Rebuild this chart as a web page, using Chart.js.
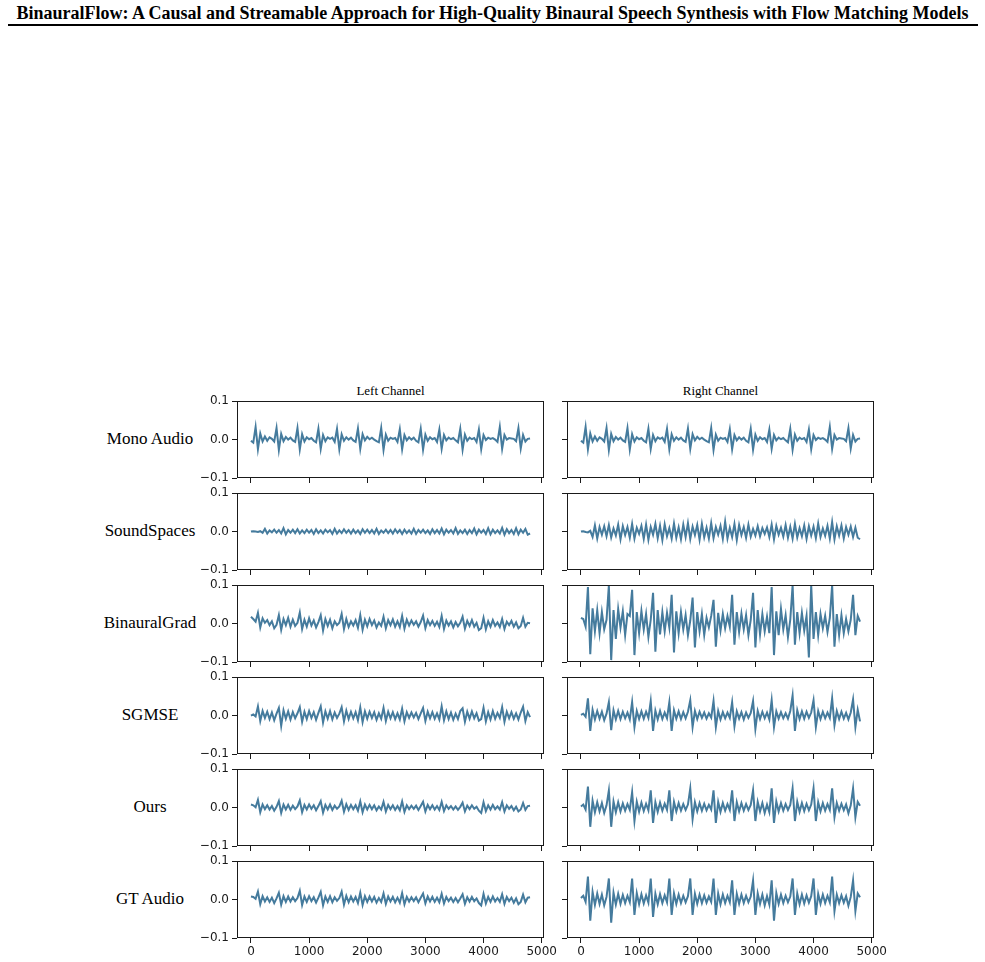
<!DOCTYPE html>
<html>
<head>
<meta charset="utf-8">
<script src="https://cdn.jsdelivr.net/npm/chart.js@4.4.1/dist/chart.umd.min.js"></script>
<style>
  body { margin: 0; background: #fff; width: 985px; height: 962px; position: relative; overflow: hidden; }
  .title { position: absolute; left: 0; width: 985px; top: 3px; text-align: center;
           font: bold 18px "Liberation Serif", serif; color: #000; white-space: nowrap; }
  .rule { position: absolute; left: 8px; width: 970px; top: 24px; height: 2px; background: #000; }
  .rowlab { position: absolute; left: 70px; width: 160px; text-align: center;
            font: 17px "Liberation Serif", serif; color: #000; }
  .collab { position: absolute; width: 307px; text-align: center;
            font: 13px "Liberation Serif", serif; color: #000; }
  canvas { position: absolute; }
</style>
</head>
<body>
<div class="title">BinauralFlow: A Causal and Streamable Approach for High-Quality Binaural Speech Synthesis with Flow Matching Models</div>
<div class="rule"></div>
<script>
// sample index step between stored values
const SAMPLE_STEP = 40;
const X_TICKS = [0, 1000, 2000, 3000, 4000, 5000];
const Y_TICKS = [-0.1, 0, 0.1];
const Y_TICK_LABELS = ['\u22120.1', '0.0', '0.1'];
const ROW_NAMES = ['Mono Audio', 'SoundSpaces', 'BinauralGrad', 'SGMSE', 'Ours', 'GT Audio'];
const COL_NAMES = ['Left Channel', 'Right Channel'];

// waveforms, amplitude in thousandths
const monoAudio = [
  -3, -8, 33, -25, 16, -5, 8, -3, 6, 2, -5,
  30, -27, 15, -4, 7, 0, 5, -2, -6, 30, -26,
  14, -5, 6, 1, 4, -3, -7, 28, -24, 12, -4,
  6, 2, 5, -6, 28, -25, 14, -3, 6, 0, 5,
  -2, -6, 29, -24, 14, -2, 7, 1, 5, 0, -4,
  -7, 30, -27, 13, -3, 5, 2, 4, -6, 27, -25,
  12, -2, 6, 0, 5, -3, -7, 28, -26, 13, -3,
  6, 1, 4, -6, 26, -24, 12, -2, 5, 1, 4,
  -2, -7, 28, -26, 13, -3, 5, 1, 4, -6, 26,
  -25, 12, -1, 5, 2, 4, 0, -6, 33, -24, 12,
  0, 4, 3, 2, -4, 30, -23, 12, -5, 2, 3
];
const soundSpacesL = [
  0, 1, 0, -1, 1, -3, 7, -5, 3, -2, 5,
  -3, 4, -5, 9, -7, 4, -3, 5, -4, 6, -5,
  3, -4, 5, -3, 4, -6, 6, -4, 3, -5, 5,
  -2, 4, -6, 7, -5, 3, -4, 6, -3, 4, -5,
  5, -4, 3, -6, 6, -3, 5, -4, 4, -5, 7,
  -6, 3, -3, 5, -4, 4, -5, 6, -3, 4, -6,
  5, -4, 3, -5, 7, -6, 4, -3, 5, -4, 3,
  -6, 6, -4, 4, -5, 8, -7, 5, -3, 4, -5,
  9, -6, 3, -4, 5, -6, 4, -4, 8, -7, 5,
  -3, 4, -6, 9, -7, 5, -4, 3, -5, 10, -8,
  6, -4, 4, -6, 9, -7, 5, -3, 7, -8, -5
];
const soundSpacesR = [
  0, 1, -1, -2, 2, -14, 16, -18, 12, -8, 14,
  -12, 17, -15, 8, -10, 18, -20, 14, -9, 12, -16,
  20, -18, 10, -6, 15, -19, 18, -21, 12, -8, 20,
  -17, 15, -22, 19, -12, 9, -18, 21, -16, 11, -20,
  18, -14, 22, -19, 13, -9, 17, -21, 20, -15, 10,
  -18, 22, -17, 12, -8, 15, -19, 26, -18, 10, -14,
  20, -22, 17, -9, 12, -16, 18, -13, 7, -10, 14,
  -12, 9, -6, 11, -14, 18, -20, 15, -8, 10, -13,
  17, -16, 12, -18, 20, -15, 9, -12, 16, -19, 14,
  -10, 13, -17, 21, -14, 8, -11, 15, -18, 25, -20,
  14, -10, 16, -18, 12, -8, 13, -14, 10, -16, -20
];
const binauralGradL = [
  18, 12, 5, 28, -10, 14, 2, 9, -4, 6, -12,
  -3, 22, -16, 12, -4, 15, -8, 10, -6, 2, 29,
  -14, 10, -8, 14, -5, 8, -10, 4, 22, -18, 12,
  -6, 10, -12, 6, -4, 2, 25, -14, 12, -9, 6,
  -5, 9, -11, 22, -16, 10, -7, 12, -4, 8, -10,
  3, -6, 18, -12, 9, -4, 11, -8, 6, -9, 20,
  -13, 10, -5, 8, -3, 6, -8, 4, 21, -12, 9,
  -4, 7, -6, 5, -9, 20, -14, 8, -5, 6, -10,
  4, -7, 2, 18, -13, 7, -6, 9, -8, 2, -17,
  -12, 15, -15, 6, -8, 9, -6, 3, -9, 12, -14,
  5, -4, 7, -8, 3, -12, -6, 15, -8, 2, 1
];
const binauralGradR = [
  15, 12, -8, 95, -80, 40, -20, 35, -25, 30, -15,
  10, 100, -95, 35, -40, 38, -10, 32, -30, 25, 20,
  88, -82, 30, -25, 33, -15, 25, -35, 10, 80, -73,
  35, -28, 30, -20, 28, -10, 75, -75, 32, -25, 30,
  -15, 22, -30, 8, 68, -62, 30, -20, 25, -30, 15,
  -10, 20, 62, -60, 28, -18, 25, -12, 20, -8, 75,
  -55, 30, -22, 26, -15, 22, -30, 10, 80, -62, 35,
  -28, 25, -20, 18, -25, 95, -82, 32, -30, 38, -15,
  22, -35, 10, 100, -55, 30, -25, 28, -18, 20, -88,
  100, -40, 30, -30, 25, -12, 20, -22, 15, 100, -60,
  25, -30, 22, -25, 12, -20, 10, 75, -30, 20, 5
];
const sgmseL = [
  0, 3, -2, 24, -14, 12, -6, 10, -9, 8, -12,
  5, 20, -27, 14, -8, 11, -10, 9, -7, 6, 22,
  -16, 10, -9, 12, -6, 9, -11, 7, 24, -18, 11,
  -8, 12, -10, 8, -6, 5, 22, -15, 13, -9, 10,
  -7, 9, -12, 21, -17, 11, -8, 10, -6, 9, -11,
  6, -8, 20, -14, 10, -7, 9, -9, 6, -10, 18,
  -15, 9, -6, 8, -5, 7, -9, 6, 20, -14, 10,
  -7, 9, -8, 6, -10, 24, -12, 11, -9, 8, -11,
  5, -9, 12, 19, -16, 10, -8, 11, -7, 6, -13,
  -9, 20, -15, 9, -10, 12, -8, 7, -6, 22, -16,
  10, -7, 9, -8, 6, -10, 8, 23, -14, 9, -4
];
const sgmseR = [
  2, 5, -3, 45, -40, 15, -10, 12, -8, 10, -12,
  5, 35, -38, 14, -10, 12, -9, 10, -7, 8, -10,
  35, -30, 12, -9, 11, -8, 10, -6, 38, -40, 13,
  -10, 12, -9, 8, -7, 35, -40, 14, -8, 11, -9,
  9, -7, 10, 40, -30, 12, -9, 10, -6, 8, -8,
  6, -5, 38, -30, 12, -10, 9, -7, 8, -6, 35,
  -28, 11, -8, 9, -10, 8, -6, 7, 38, -35, 12,
  -9, 10, -7, 8, -10, 40, -30, 11, -8, 9, -7,
  6, -8, 12, 52, -40, 14, -9, 11, -8, 10, -6,
  8, 40, -30, 12, -9, 10, -7, 8, -6, 45, -25,
  12, -9, 10, -8, 7, -10, 8, 42, -30, 15, -15
];
const oursL = [
  8, 6, 1, 20, -12, 8, -4, 6, -5, 4, -8,
  2, 17, -14, 8, -5, 7, -6, 5, -4, 3, 19,
  -12, 7, -5, 8, -3, 6, -7, 4, 17, -13, 7,
  -5, 8, -6, 5, -3, 3, 18, -11, 9, -6, 7,
  -4, 6, -8, 16, -12, 8, -5, 7, -4, 6, -7,
  3, -5, 15, -10, 7, -4, 6, -6, 4, -7, 16,
  -11, 6, -4, 5, -3, 5, -6, 4, 15, -10, 7,
  -4, 6, -5, 4, -6, 15, -9, 6, -3, 4, -5,
  3, -6, 2, 13, -10, 5, -4, 6, -3, 2, -8,
  -14, 14, -9, 6, -5, 7, -4, 3, -5, 14, -10,
  6, -3, 4, -7, 2, -10, -5, 12, -6, 4, 5
];
const oursR = [
  3, 8, -5, 55, -50, 18, -12, 14, -10, 12, -14,
  6, 45, -50, 16, -12, 14, -10, 11, -8, 9, -6,
  40, -35, 15, -11, 13, -9, 10, -7, 45, -40, 14,
  -11, 13, -8, 10, -6, 45, -35, 15, -10, 12, -8,
  9, -6, 8, 50, -30, 14, -10, 12, -8, 10, -7,
  7, -5, 45, -40, 15, -11, 12, -8, 9, -6, 45,
  -35, 14, -10, 12, -8, 9, -6, 7, 45, -35, 15,
  -10, 12, -14, 8, -12, 50, -40, 16, -10, 12, -8,
  9, -6, 7, 50, -35, 15, -11, 12, -9, 10, -7,
  8, 50, -35, 14, -10, 12, -8, 9, -6, 50, -25,
  12, -8, 10, -7, 8, -15, 6, 50, -25, 15, 5
];
const gtL = [
  8, 7, 2, 21, -12, 9, -5, 6, -6, 5, -9,
  3, 18, -13, 9, -6, 8, -5, 6, -4, 4, 23,
  -14, 8, -6, 9, -4, 6, -8, 5, 20, -15, 8,
  -6, 9, -7, 6, -3, 4, 21, -13, 10, -7, 8,
  -5, 7, -9, 18, -14, 9, -6, 8, -5, 7, -8,
  4, -6, 16, -11, 8, -5, 7, -7, 5, -8, 17,
  -12, 7, -5, 6, -4, 6, -7, 5, 16, -10, 8,
  -5, 7, -6, 5, -7, 15, -10, 7, -4, 5, -6,
  4, -7, 3, 14, -11, 6, -5, 7, -4, 3, -9,
  -15, 15, -10, 7, -6, 8, -5, 4, -6, 14, -11,
  7, -4, 5, -8, 3, -12, -6, 13, -7, 5, 6
];
const gtR = [
  4, 10, -6, 60, -55, 20, -14, 16, -11, 13, -15,
  7, 55, -60, 18, -13, 15, -11, 12, -9, 10, -7,
  55, -40, 17, -12, 14, -10, 11, -8, 55, -45, 15,
  -12, 14, -9, 11, -7, 55, -40, 16, -11, 13, -9,
  10, -7, 9, 55, -40, 15, -11, 13, -9, 11, -8,
  8, -6, 55, -40, 16, -12, 13, -9, 10, -7, 50,
  -40, 15, -11, 13, -9, 10, -7, 8, 50, -40, 16,
  -11, 13, -15, 9, -13, 50, -55, 17, -11, 13, -9,
  10, -7, 8, 55, -40, 16, -12, 13, -10, 11, -8,
  9, 55, -40, 15, -11, 13, -9, 10, -7, 60, -30,
  13, -9, 11, -8, 9, -16, 7, 50, -30, 16, 6
];

const PANELS = [
  [monoAudio, monoAudio],
  [soundSpacesL, soundSpacesR],
  [binauralGradL, binauralGradR],
  [sgmseL, sgmseR],
  [oursL, oursR],
  [gtL, gtR]
];

// layout of the grid
const PLOT_LEFT = [237, 567];
const PLOT_W = 307;
const PLOT_H = 77;
const ROW_TOP0 = 401;
const ROW_STEP = 92;
const PAD_TOP = 10, PAD_RIGHT = 20, X_AXIS_H = 24;
const LINE_COLOR = '#457b9d';
const INK = '#1a1a1a';

Chart.defaults.font.family = '"DejaVu Sans", sans-serif';
Chart.defaults.font.size = 12;
Chart.defaults.color = INK;

const framePlugin = {
  id: 'frame',
  afterDraw(chart) {
    const a = chart.chartArea, c = chart.ctx;
    c.save();
    c.strokeStyle = INK;
    c.lineWidth = 1;
    c.strokeRect(Math.round(a.left) + 0.5, Math.round(a.top) + 0.5,
                 Math.round(a.right - a.left) - 1, Math.round(a.bottom - a.top) - 1);
    c.restore();
  }
};

function addText(cls, text, left, top) {
  const d = document.createElement('div');
  d.className = cls;
  d.textContent = text;
  d.style.left = left + 'px';
  d.style.top = top + 'px';
  document.body.appendChild(d);
}

COL_NAMES.forEach((name, c) => addText('collab', name, PLOT_LEFT[c], ROW_TOP0 - 18));

PANELS.forEach((pair, r) => {
  const top = ROW_TOP0 + r * ROW_STEP;
  addText('rowlab', ROW_NAMES[r], 70, top + PLOT_H / 2 - 11);
  pair.forEach((wave, c) => {
    const yw = c === 0 ? 50 : 12;
    const bottomRow = r === PANELS.length - 1;
    const cv = document.createElement('canvas');
    const w = yw + PLOT_W + PAD_RIGHT;
    const h = PAD_TOP + PLOT_H + X_AXIS_H;
    cv.width = w; cv.height = h;
    cv.style.width = w + 'px'; cv.style.height = h + 'px';
    cv.style.left = (PLOT_LEFT[c] - yw) + 'px';
    cv.style.top = (top - PAD_TOP) + 'px';
    document.body.appendChild(cv);

    new Chart(cv.getContext('2d'), {
      type: 'line',
      data: {
        datasets: [{
          data: wave.map((v, i) => ({ x: i * SAMPLE_STEP, y: v / 1000 })),
          borderColor: LINE_COLOR,
          borderWidth: 2,
          pointRadius: 0,
          tension: 0,
          fill: false
        }]
      },
      options: {
        responsive: false,
        animation: false,
        events: [],
        layout: { padding: { left: 0, top: PAD_TOP, right: PAD_RIGHT, bottom: 0 } },
        plugins: { legend: { display: false }, tooltip: { enabled: false } },
        scales: {
          x: {
            type: 'linear', min: -240, max: 5040,
            afterBuildTicks: s => { s.ticks = X_TICKS.map(v => ({ value: v })); },
            afterFit: s => { s.height = X_AXIS_H; },
            border: { display: false },
            grid: { drawOnChartArea: false, drawTicks: true, tickLength: 5, color: INK, lineWidth: 1 },
            ticks: { padding: 2, maxRotation: 0, autoSkip: false,
                     callback: v => bottomRow ? String(v) : '' }
          },
          y: {
            min: -0.1, max: 0.1,
            afterBuildTicks: s => { s.ticks = Y_TICKS.map(v => ({ value: v })); },
            afterFit: s => { s.width = yw; },
            border: { display: false },
            grid: { drawOnChartArea: false, drawTicks: true, tickLength: 5, color: INK, lineWidth: 1 },
            ticks: { padding: 3, autoSkip: false,
                     callback: (v, i) => c === 0 ? Y_TICK_LABELS[i] : '' }
          }
        }
      },
      plugins: [framePlugin]
    });
  });
});
</script>
</body>
</html>
